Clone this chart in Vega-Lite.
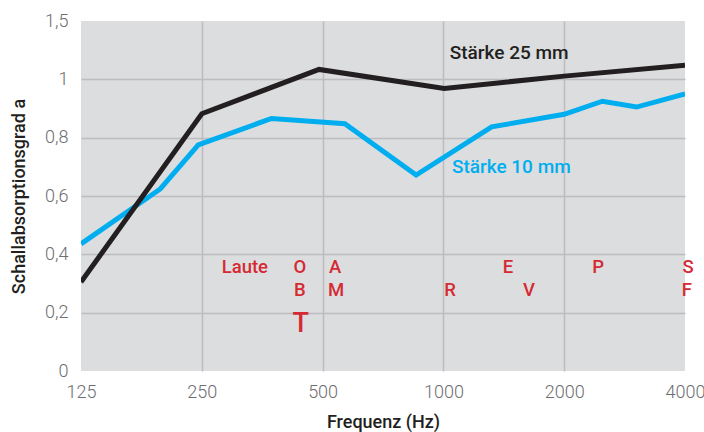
{
  "$schema": "https://vega.github.io/schema/vega-lite/v6.json",
  "width": 604,
  "height": 350,
  "autosize": {"type": "none"},
  "padding": {"left": 81, "top": 21, "right": 19, "bottom": 61},
  "background": "#ffffff",
  "config": {
    "view": {"fill": "#dcdddf", "stroke": null},
    "font": "Roboto"
  },
  "datasets": {
    "curves": [
      {"series": "Stärke 10 mm", "f": 125, "a": 0.436},
      {"series": "Stärke 10 mm", "f": 197, "a": 0.624},
      {"series": "Stärke 10 mm", "f": 245, "a": 0.775},
      {"series": "Stärke 10 mm", "f": 373, "a": 0.866},
      {"series": "Stärke 10 mm", "f": 568, "a": 0.848},
      {"series": "Stärke 10 mm", "f": 855, "a": 0.672},
      {"series": "Stärke 10 mm", "f": 1319, "a": 0.837},
      {"series": "Stärke 10 mm", "f": 2000, "a": 0.880},
      {"series": "Stärke 10 mm", "f": 2490, "a": 0.925},
      {"series": "Stärke 10 mm", "f": 3030, "a": 0.905},
      {"series": "Stärke 10 mm", "f": 4000, "a": 0.950},
      {"series": "Stärke 25 mm", "f": 125, "a": 0.305},
      {"series": "Stärke 25 mm", "f": 250, "a": 0.882},
      {"series": "Stärke 25 mm", "f": 490, "a": 1.034},
      {"series": "Stärke 25 mm", "f": 1005, "a": 0.969},
      {"series": "Stärke 25 mm", "f": 2000, "a": 1.011},
      {"series": "Stärke 25 mm", "f": 4000, "a": 1.048}
    ],
    "seriesLabels": [
      {"series": "Stärke 25 mm", "f": 1037, "a": 1.09, "label": "Stärke 25 mm"},
      {"series": "Stärke 10 mm", "f": 1050, "a": 0.70, "label": "Stärke 10 mm"}
    ],
    "letters": [
      {"f": 320, "a": 0.356, "label": "Laute"},
      {"f": 439, "a": 0.356, "label": "O"},
      {"f": 439, "a": 0.279, "label": "B"},
      {"f": 537, "a": 0.356, "label": "A"},
      {"f": 540, "a": 0.279, "label": "M"},
      {"f": 1039, "a": 0.279, "label": "R"},
      {"f": 1449, "a": 0.356, "label": "E"},
      {"f": 1634, "a": 0.279, "label": "V"},
      {"f": 2429, "a": 0.356, "label": "P"},
      {"f": 4070, "a": 0.356, "label": "S"},
      {"f": 4040, "a": 0.279, "label": "F"}
    ],
    "big": [
      {"f": 441, "a": 0.16, "label": "T"}
    ]
  },
  "encoding": {
    "x": {
      "field": "f",
      "type": "quantitative",
      "scale": {"type": "log", "domain": [125, 4000], "nice": false},
      "axis": {
        "title": "Frequenz (Hz)",
        "values": [125, 250, 500, 1000, 2000, 4000],
        "labelExpr": "datum.value",
        "domain": false,
        "ticks": false,
        "labelPadding": 12,
        "labelFontSize": 18,
        "labelFontWeight": 300,
        "labelColor": "#6d6e71",
        "labelFlush": false,
        "gridColor": "#bcbdc0",
        "gridWidth": 1.5,
        "gridOpacity": {"condition": {"test": "datum.value === 125 || datum.value === 4000", "value": 0}, "value": 1},
        "titleFontSize": 18,
        "titleFontWeight": 500,
        "titleColor": "#231f20",
        "titlePadding": 12
      }
    },
    "y": {
      "field": "a",
      "type": "quantitative",
      "scale": {"domain": [0, 1.2], "nice": false, "zero": true},
      "axis": {
        "title": "Schallabsorptionsgrad a",
        "values": [0, 0.2, 0.4, 0.6, 0.8, 1, 1.2],
        "labelExpr": "datum.value === 1.2 ? '1,5' : replace(format(datum.value, '~g'), '.', ',')",
        "domain": false,
        "ticks": false,
        "labelPadding": 13,
        "labelFontSize": 18,
        "labelFontWeight": 300,
        "labelColor": "#6d6e71",
        "labelFlush": false,
        "gridColor": "#bcbdc0",
        "gridWidth": 1.5,
        "gridOpacity": {"condition": {"test": "datum.value === 0 || datum.value === 1.2", "value": 0}, "value": 1},
        "titleFontSize": 18,
        "titleFontWeight": 500,
        "titleColor": "#231f20",
        "titlePadding": 16
      }
    }
  },
  "layer": [
    {
      "data": {"name": "curves"},
      "transform": [{"filter": "datum.series === 'Stärke 10 mm'"}],
      "mark": {"type": "line", "color": "#00aeef", "strokeWidth": 5, "strokeJoin": "miter", "clip": true}
    },
    {
      "data": {"name": "curves"},
      "transform": [{"filter": "datum.series === 'Stärke 25 mm'"}],
      "mark": {"type": "line", "color": "#231f20", "strokeWidth": 5, "strokeJoin": "miter", "clip": true}
    },
    {
      "data": {"name": "seriesLabels"},
      "mark": {"type": "text", "align": "left", "baseline": "middle", "fontSize": 19, "fontWeight": 500},
      "encoding": {
        "text": {"field": "label"},
        "color": {"field": "series", "type": "nominal", "scale": {"domain": ["Stärke 25 mm", "Stärke 10 mm"], "range": ["#231f20", "#00aeef"]}, "legend": null}
      }
    },
    {
      "data": {"name": "letters"},
      "mark": {"type": "text", "align": "center", "baseline": "middle", "fontSize": 18.5, "fontWeight": 500, "color": "#d52a33"},
      "encoding": {"text": {"field": "label"}}
    },
    {
      "data": {"name": "big"},
      "mark": {"type": "text", "align": "center", "baseline": "middle", "fontSize": 27, "fontWeight": 500, "color": "#d52a33"},
      "encoding": {"text": {"field": "label"}}
    }
  ]
}
